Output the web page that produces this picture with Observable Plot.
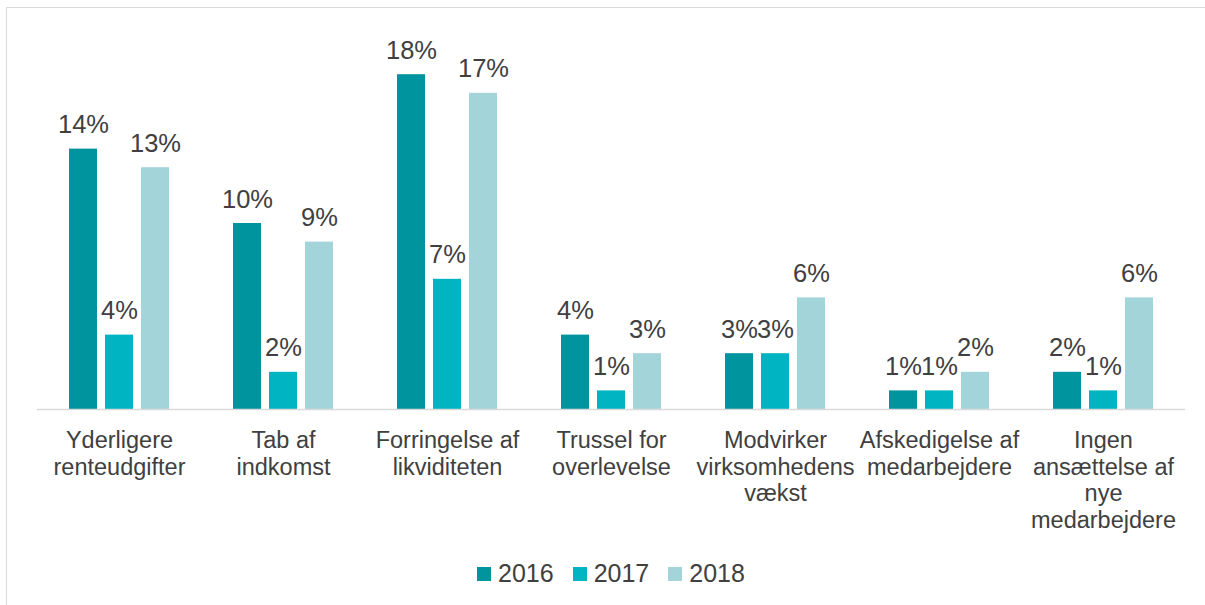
<!DOCTYPE html>
<html>
<head>
<meta charset="utf-8">
<script src="https://cdn.jsdelivr.net/npm/d3@7"></script>
<script src="https://cdn.jsdelivr.net/npm/@observablehq/plot@0.6"></script>
<style>
  html, body { margin: 0; padding: 0; background: #fff; }
  #wrap { position: relative; width: 1205px; height: 605px; overflow: hidden; font-family: "Liberation Sans", Arial, sans-serif; }
  #frame { position: absolute; left: 6px; top: 7px; width: 1300px; height: 700px; border-left: 1px solid #d9d9d9; border-top: 1px solid #d9d9d9; }
  #chart { position: absolute; left: 0; top: 0; }
  #legend { position: absolute; left: 477px; top: 559px; display: flex; align-items: center; font-size: 25px; color: #404040; }
  .item { display: flex; align-items: center; margin-right: 19px; }
  .sw { width: 14px; height: 14px; margin-right: 7px; }
</style>
</head>
<body>
<div id="wrap">
  <div id="frame"></div>
  <div id="chart"></div>
  <div id="legend"></div>
</div>
<script>
const categories = [
  "Yderligere renteudgifter",
  "Tab af indkomst",
  "Forringelse af likviditeten",
  "Trussel for overlevelse",
  "Modvirker virksomhedens vækst",
  "Afskedigelse af medarbejdere",
  "Ingen ansættelse af nye medarbejdere"
];
const categoryLabels = [
  "Yderligere\nrenteudgifter",
  "Tab af\nindkomst",
  "Forringelse af\nlikviditeten",
  "Trussel for\noverlevelse",
  "Modvirker\nvirksomhedens\nvækst",
  "Afskedigelse af\nmedarbejdere",
  "Ingen\nansættelse af\nnye\nmedarbejdere"
];
const years = ["2016", "2017", "2018"];
const v2016 = [14, 10, 18, 4, 3, 1, 2];
const v2017 = [4, 2, 7, 1, 3, 1, 1];
const v2018 = [13, 9, 17, 3, 6, 2, 6];
const colors = ["#00949f", "#00b5c1", "#a3d4da"];

const series = [v2016, v2017, v2018];
const data = [];
categories.forEach((c, i) => {
  years.forEach((y, j) => data.push({category: c, year: y, value: series[j][i]}));
});
const labelOf = new Map(categories.map((c, i) => [c, categoryLabels[i]]));

const chart = Plot.plot({
  width: 1205,
  height: 545,
  marginLeft: 35,
  marginRight: 19,
  marginTop: 37,
  marginBottom: 136,
  style: {fontFamily: "'Liberation Sans', Arial, sans-serif", color: "#404040", background: "transparent"},
  fx: {domain: categories, padding: 0},
  x: {domain: years, paddingInner: 0.22, paddingOuter: 0.84, axis: null},
  y: {domain: [0, 20], axis: null},
  color: {domain: years, range: colors},
  marks: [
    Plot.barY(data, {fx: "category", x: "year", y: "value", fill: "year"}),
    Plot.ruleY([0], {stroke: "#d9d9d9", strokeWidth: 1.5}),
    Plot.text(data, {fx: "category", x: "year", y: "value", text: d => d.value + "%", dy: -16, lineAnchor: "bottom", fontSize: 25.5, fill: "#404040"}),
    Plot.axisFx({anchor: "bottom", tickSize: 0, tickPadding: 20, label: null, tickFormat: c => labelOf.get(c), fontSize: 23.5, lineHeight: 1.13, fill: "#404040"})
  ]
});
document.getElementById("chart").appendChild(chart);

const legend = document.getElementById("legend");
years.forEach((y, j) => {
  const it = document.createElement("div");
  it.className = "item";
  const sw = document.createElement("div");
  sw.className = "sw";
  sw.style.background = colors[j];
  const t = document.createElement("span");
  t.textContent = y;
  it.appendChild(sw);
  it.appendChild(t);
  legend.appendChild(it);
});
</script>
</body>
</html>
